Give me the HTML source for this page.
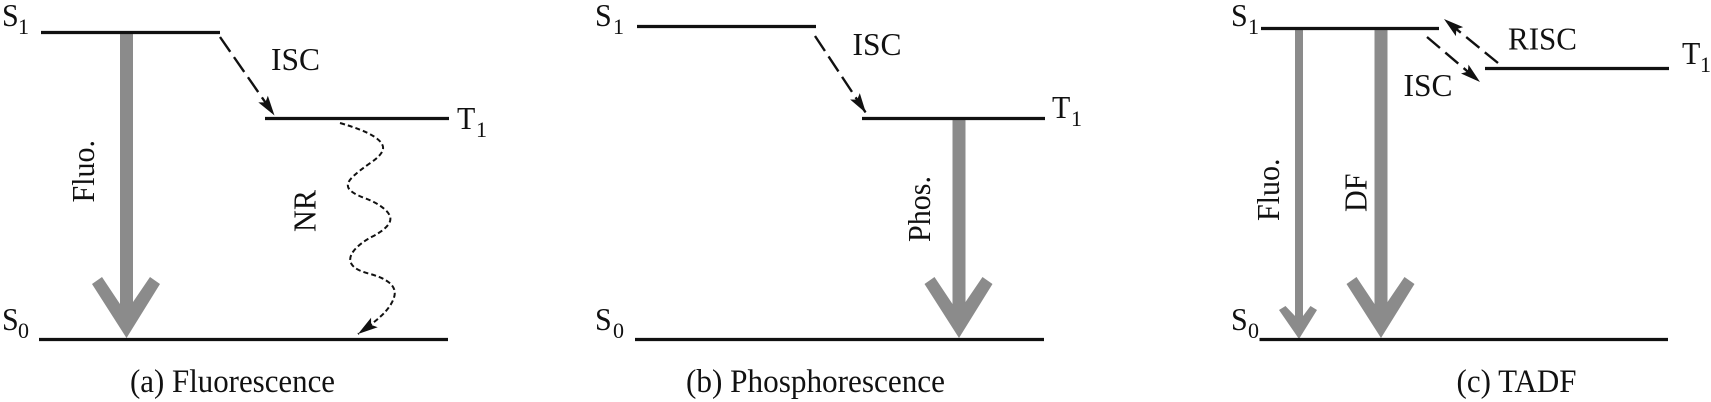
<!DOCTYPE html>
<html>
<head>
<meta charset="utf-8">
<style>
html,body{margin:0;padding:0;background:#fff;width:1711px;height:402px;overflow:hidden}
svg{display:block}
text{font-family:"Liberation Serif",serif;font-size:32px;fill:#111}
.s{font-size:22px}
.l{stroke:#111;stroke-width:3.2;fill:none}
.d{stroke:#111;stroke-width:2.4;fill:none;stroke-dasharray:18 6.5;marker-end:url(#h)}
.g{fill:#8b8b8b}
</style>
</head>
<body>
<svg width="1711" height="402" viewBox="0 0 1711 402" xmlns="http://www.w3.org/2000/svg">
<defs>
<marker id="h" markerUnits="userSpaceOnUse" markerWidth="24" markerHeight="16" refX="21" refY="8" orient="auto">
<path d="M21,8 L1,2.2 L5,8 L1,13.8 Z" fill="#111"/>
</marker>
</defs>

<!-- Panel a -->
<polygon class="g" points="120,32 133,32 133,302 150,277 160,284 126.5,338 92,284 102,277 120,304"/>
<path class="l" d="M41,32.5H220M265,118.5H449M39,339.5H448"/>
<path class="d" d="M220,37L274.5,115.5"/>
<path d="M340,123 Q364,130 374,136.5 Q384,143 383,149 Q382,155 371,162.5 Q360,170 353,176.5 Q346,183 348.5,188 Q351,193 364.5,198 Q378,203 385.5,210 Q393,217 389,223.5 Q385,230 372.5,236.5 Q360,243 354,250.5 Q348,258 351.5,264 Q355,270 368.5,273.5 Q382,277 389,282.5 Q396,288 394.5,295.5 Q393,303 385.5,311.5 Q378,320 358,334" fill="none" stroke="#111" stroke-width="2" stroke-dasharray="5 3" marker-end="url(#h)"/>
<text x="2" y="26" textLength="16.7" lengthAdjust="spacingAndGlyphs">S</text><text class="s" x="18" y="34">1</text>
<text x="2" y="330" textLength="16.7" lengthAdjust="spacingAndGlyphs">S</text><text class="s" x="18" y="338">0</text>
<text x="457" y="129" textLength="18.3" lengthAdjust="spacingAndGlyphs">T</text><text class="s" x="476" y="137">1</text>
<text x="271" y="70" textLength="49" lengthAdjust="spacingAndGlyphs">ISC</text>
<text transform="translate(94,202.5) rotate(-90)" textLength="62.5" lengthAdjust="spacingAndGlyphs">Fluo.</text>
<text transform="translate(315.5,232) rotate(-90)" textLength="42" lengthAdjust="spacingAndGlyphs">NR</text>
<text x="130" y="392" style="font-size:32.5px" textLength="205" lengthAdjust="spacingAndGlyphs">(a) Fluorescence</text>

<!-- Panel b -->
<polygon class="g" points="952.5,118 965.5,118 965.5,302 982.5,277 992.5,284 959,338 924.5,284 934.5,277 952.5,304"/>
<path class="l" d="M637,26.5H816M862,118.5H1045M635,339.5H1044"/>
<path class="d" d="M815,36L866,113"/>
<text x="595" y="26" textLength="16.7" lengthAdjust="spacingAndGlyphs">S</text><text class="s" x="613" y="34">1</text>
<text x="595" y="330" textLength="16.7" lengthAdjust="spacingAndGlyphs">S</text><text class="s" x="613" y="338">0</text>
<text x="1052" y="118" textLength="18.3" lengthAdjust="spacingAndGlyphs">T</text><text class="s" x="1071" y="126">1</text>
<text x="852.5" y="55" textLength="49" lengthAdjust="spacingAndGlyphs">ISC</text>
<text transform="translate(930,242) rotate(-90)" textLength="66" lengthAdjust="spacingAndGlyphs">Phos.</text>
<text x="686" y="392" style="font-size:32.5px" textLength="259" lengthAdjust="spacingAndGlyphs">(b) Phosphorescence</text>

<!-- Panel c -->
<polygon class="g" points="1295,28 1303,28 1303,316 1310.5,306 1317,310 1299,339 1279,310 1285.5,306 1295,316"/>
<polygon class="g" points="1374.5,28 1387.5,28 1387.5,302 1404.5,277 1414.5,284 1381,338 1346.5,284 1356.5,277 1374.5,304"/>
<path class="l" d="M1261,28.5H1439M1485,68.5H1669M1259.5,339.5H1668"/>
<path class="d" style="stroke-dasharray:17 7" d="M1427,37L1480,82"/>
<path class="d" style="stroke-dasharray:17 7" d="M1498,63L1444,19"/>
<text x="1231" y="26" textLength="16.7" lengthAdjust="spacingAndGlyphs">S</text><text class="s" x="1248" y="34">1</text>
<text x="1231" y="330" textLength="16.7" lengthAdjust="spacingAndGlyphs">S</text><text class="s" x="1248" y="338">0</text>
<text x="1682" y="64" textLength="18.3" lengthAdjust="spacingAndGlyphs">T</text><text class="s" x="1700" y="72">1</text>
<text x="1508" y="49.5" textLength="69" lengthAdjust="spacingAndGlyphs">RISC</text>
<text x="1403.5" y="96" textLength="49" lengthAdjust="spacingAndGlyphs">ISC</text>
<text transform="translate(1279,221) rotate(-90)" textLength="62.5" lengthAdjust="spacingAndGlyphs">Fluo.</text>
<text transform="translate(1366.5,212) rotate(-90)" textLength="38.5" lengthAdjust="spacingAndGlyphs">DF</text>
<text x="1456.5" y="392" style="font-size:32.5px" textLength="120" lengthAdjust="spacingAndGlyphs">(c) TADF</text>
</svg>
</body>
</html>
